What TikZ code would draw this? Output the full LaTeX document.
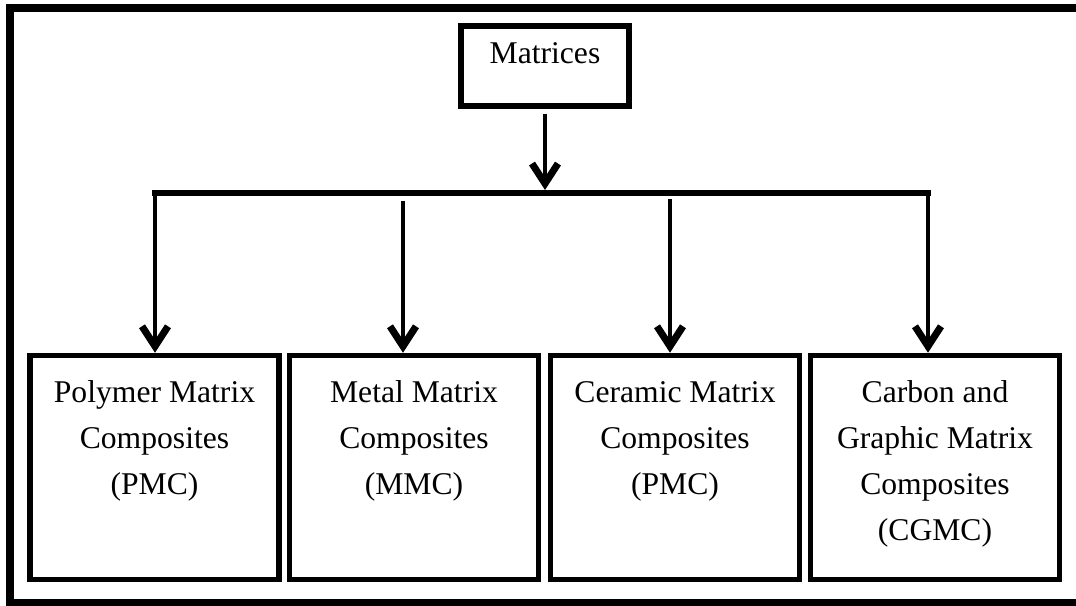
\documentclass[tikz,border=0pt]{standalone}
\usepackage{fontspec}
\setmainfont{Liberation Serif}
\usetikzlibrary{arrows.meta}
\newcommand{\boxtext}[1]{\parbox[t]{2.4cm}{\centering #1}}
\begin{document}
\begin{tikzpicture}[font=\fontsize{9}{13.1}\selectfont,
  box/.style={draw, line width=1.5pt, inner sep=0pt, minimum width=2.49cm, text height=13.4pt, text depth=50.4pt},
  arr/.style={line width=1.4pt, -{Straight Barb[length=2mm,width=2.6mm,line width=2pt]}}]
\useasboundingbox (0,0) rectangle (10.76,-6.06);
\draw[line width=2.3pt] (0.10,-0.08) rectangle (11.2,-6.03);
\node[box, minimum width=1.68cm, text height=10.5pt, text depth=12.2pt] (Mat_0_0) at (5.45,-0.66) {Matrices};
\coordinate (J_0_0) at (5.45,-1.90);
\draw[arr, shorten <=1.5pt] (Mat_0_0) -- (J_0_0);
\coordinate (J_1_0) at (1.55,-1.93);
\coordinate (J_1_3) at (9.28,-1.93);
\draw[line width=1.7pt, line cap=rect] (J_1_0) -- (J_1_3);
\coordinate (J_1_1) at (4.03,-2.01);
\coordinate (J_1_2) at (6.70,-1.99);
\node[box] (Comp_1_0) at (1.545,-4.675) {\boxtext{Polymer Matrix\\ Composites\\ (PMC)}};
\draw[arr] (J_1_0) -- (J_1_0 |- Comp_1_0.north);
\node[box] (Comp_1_1) at (4.14,-4.675) {\boxtext{Metal Matrix\\ Composites\\ (MMC)}};
\draw[arr] (J_1_1) -- (J_1_1 |- Comp_1_1.north);
\node[box] (Comp_1_2) at (6.75,-4.675) {\boxtext{Ceramic Matrix\\ Composites\\ (PMC)}};
\draw[arr] (J_1_2) -- (J_1_2 |- Comp_1_2.north);
\node[box] (Comp_1_3) at (9.35,-4.675) {\boxtext{Carbon and\\ Graphic Matrix\\ Composites\\ (CGMC)}};
\draw[arr] (J_1_3) -- (J_1_3 |- Comp_1_3.north);
\end{tikzpicture}
\end{document}
